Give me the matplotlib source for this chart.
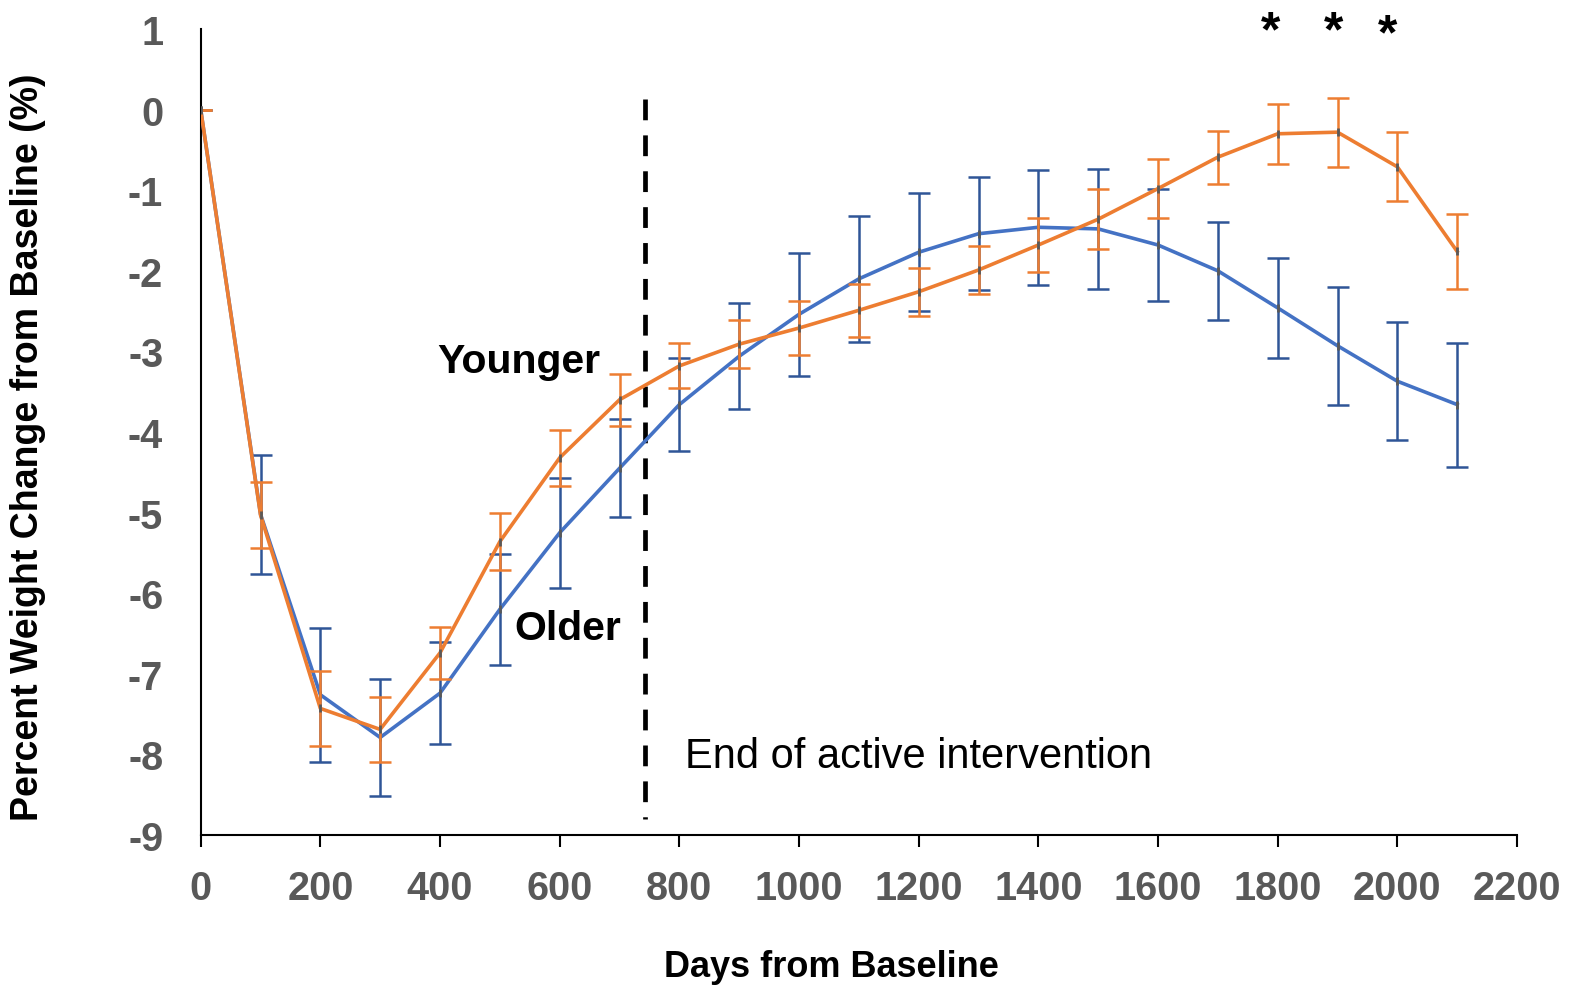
import matplotlib
matplotlib.use("Agg")
import matplotlib.pyplot as plt

plt.rcParams['font.family'] = ['Liberation Sans', 'DejaVu Sans']
plt.rcParams['axes.unicode_minus'] = False

days = [0, 100, 200, 300, 400, 500, 600, 700, 800, 900, 1000,
        1100, 1200, 1300, 1400, 1500, 1600, 1700, 1800, 1900, 2000, 2100]

older = [0, -5.02, -7.26, -7.79, -7.24, -6.20, -5.25, -4.45, -3.66, -3.06, -2.54,
         -2.10, -1.77, -1.54, -1.46, -1.48, -1.68, -2.00, -2.46, -2.93, -3.37, -3.66]
older_err = [0, 0.74, 0.83, 0.72, 0.63, 0.69, 0.68, 0.61, 0.58, 0.66, 0.76,
             0.78, 0.73, 0.70, 0.71, 0.74, 0.70, 0.61, 0.62, 0.73, 0.73, 0.77]

younger = [0, -5.03, -7.43, -7.69, -6.74, -5.36, -4.32, -3.60, -3.18, -2.91, -2.71,
           -2.49, -2.26, -1.99, -1.68, -1.36, -0.98, -0.59, -0.30, -0.28, -0.71, -1.76]
younger_err = [0, 0.41, 0.46, 0.40, 0.32, 0.35, 0.35, 0.32, 0.28, 0.30, 0.33,
               0.33, 0.30, 0.30, 0.33, 0.37, 0.37, 0.33, 0.37, 0.43, 0.43, 0.46]

xticks = [0, 200, 400, 600, 800, 1000, 1200, 1400, 1600, 1800, 2000, 2200]
yticks = [1, 0, -1, -2, -3, -4, -5, -6, -7, -8, -9]

end_day = 743
sig_days = [1789, 1894, 1983]
sig_y = [0.80, 0.80, 0.76]

BLUE = '#4472C4'
BLUE_ERR = '#2F5597'
ORANGE = '#ED7D31'
GRAY = '#595959'

fig = plt.figure(figsize=(15.7, 9.87), dpi=100)
ax = fig.add_axes([200.7 / 1570, 151 / 987, (1517 - 200.7) / 1570, (836 - 30) / 987])

ax.errorbar(days, older, yerr=older_err, color=BLUE, lw=2.6, ecolor=BLUE_ERR,
            elinewidth=1.8, capsize=8, capthick=1.8, zorder=3)
ax.plot(days, older, ls='none', marker='|', ms=6, mew=2, color=GRAY, zorder=3.5)
ax.errorbar(days, younger, yerr=younger_err, color=ORANGE, lw=2.6, ecolor=ORANGE,
            elinewidth=1.8, capsize=8, capthick=1.8, zorder=4)
ax.plot(days, younger, ls='none', marker='|', ms=6, mew=2, color=GRAY, zorder=4.5)

ax.plot([end_day, end_day], [0.13, -8.8], color='black', lw=3.4,
        dashes=(4.4, 3.2), zorder=2)

ax.set_xlim(0, 2200)
ax.set_ylim(-9, 1)
ax.set_xticks(xticks)
ax.set_yticks(yticks)
ax.tick_params(axis='x', direction='out', length=8.6, width=1.5, pad=16,
               labelsize=28.5, labelcolor=GRAY, color='black')
ax.tick_params(axis='y', length=0, pad=27, labelsize=28.5, labelcolor=GRAY)
for lab in ax.get_xticklabels() + ax.get_yticklabels():
    lab.set_fontweight('bold')

for s in ['top', 'right']:
    ax.spines[s].set_visible(False)
for s in ['left', 'bottom']:
    ax.spines[s].set_linewidth(1.5)
    ax.spines[s].set_color('black')

ax.text(396, -3.256, 'Younger', fontsize=29.5, fontweight='bold', ha='left', va='baseline')
ax.text(525, -6.568, 'Older', fontsize=29.5, fontweight='bold', ha='left', va='baseline')
ax.text(810, -8.161, 'End of active intervention', fontsize=30, ha='left', va='baseline')

for xd, yd in zip(sig_days, sig_y):
    ax.text(xd, yd, '*', fontsize=36, fontweight='bold', ha='center', va='baseline',
            clip_on=False)

fig.text(831 / 1570, (987 - 976.7) / 987, 'Days from Baseline', fontsize=26,
         fontweight='bold', ha='center', va='baseline')
fig.text(28 / 1570, 1 - 447 / 987, 'Percent Weight Change from Baseline (%)', fontsize=27,
         fontweight='bold', ha='center', va='center', rotation=90)

fig.savefig('out.png', dpi=100)
